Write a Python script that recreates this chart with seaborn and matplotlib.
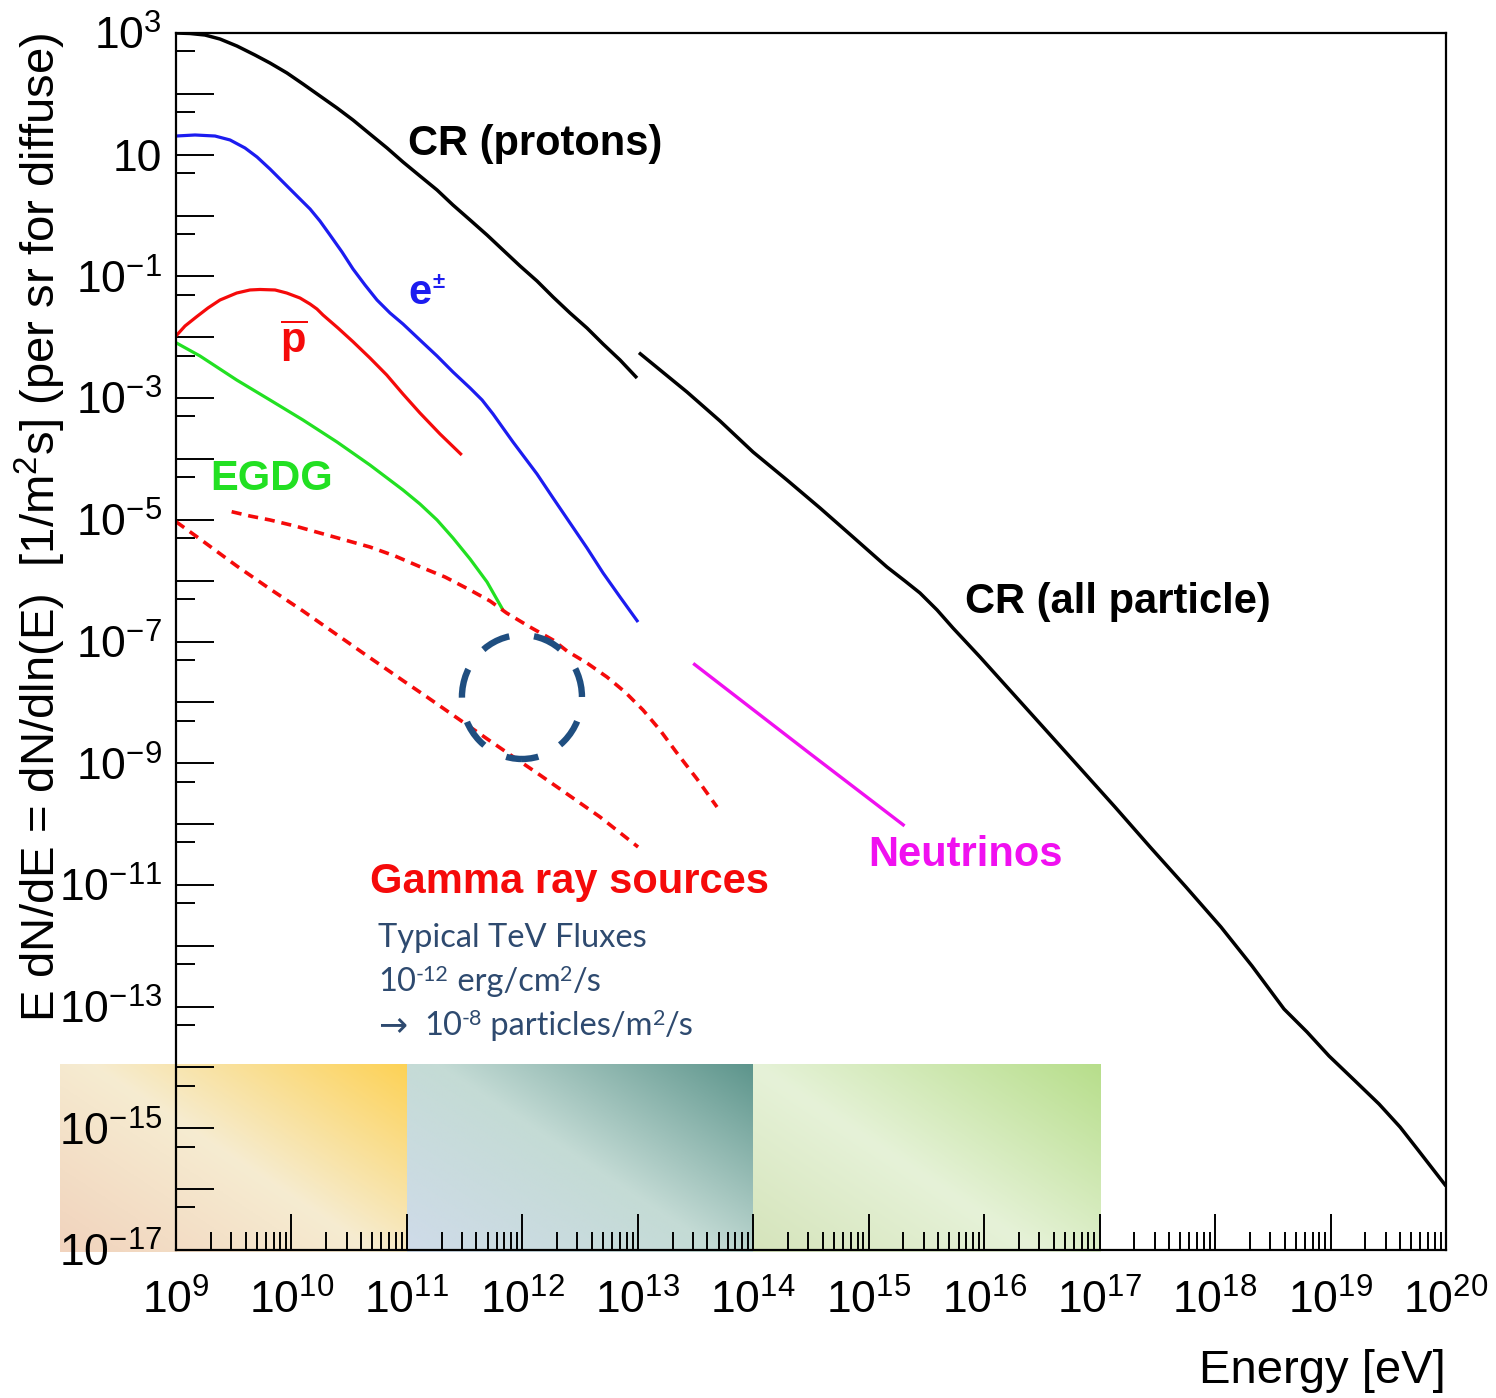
import numpy as np
import matplotlib
matplotlib.use("Agg")
import matplotlib.pyplot as plt
import matplotlib.transforms as mtransforms
import seaborn as sns
from matplotlib.patches import Ellipse
from matplotlib.colors import LinearSegmentedColormap
from matplotlib.ticker import FixedLocator, FuncFormatter, NullFormatter

# ---------------- data (log10 E [eV], log10 flux) ----------------
cr_p_logE = [9.0, 9.121, 9.251, 9.381, 9.528, 9.684, 9.814, 9.961, 10.100, 10.247, 10.395, 10.533,
             10.680, 10.828, 10.966, 11.113, 11.261, 11.399, 11.547, 11.694, 11.832, 11.980, 12.127,
             12.266, 12.413, 12.560, 12.699, 12.846, 12.993]
cr_p_logF = [3.000, 2.992, 2.967, 2.901, 2.786, 2.638, 2.507, 2.343, 2.162, 1.965, 1.767, 1.570,
             1.340, 1.110, 0.880, 0.650, 0.420, 0.173, -0.073, -0.320, -0.566, -0.829, -1.076,
             -1.339, -1.602, -1.849, -2.111, -2.374, -2.670]

cr_all_logE = [13.010, 13.426, 13.712, 13.998, 14.292, 14.578, 14.864, 15.158, 15.314, 15.444, 15.592,
               15.730, 15.964, 16.198, 16.510, 16.822, 17.133, 17.437, 17.748, 18.051, 18.320, 18.597,
               18.796, 18.987, 19.204, 19.420, 19.602, 19.758, 19.879, 20.0]
cr_all_logF = [-2.254, -2.900, -3.376, -3.886, -4.346, -4.806, -5.283, -5.776, -6.006, -6.203, -6.482,
               -6.779, -7.255, -7.748, -8.405, -9.063, -9.720, -10.377, -11.035, -11.692, -12.333,
               -13.040, -13.417, -13.812, -14.206, -14.601, -14.979, -15.357, -15.653, -15.949]

elec_logE = [9.0, 9.165, 9.338, 9.468, 9.598, 9.702, 9.814, 9.961, 10.074, 10.161, 10.247, 10.334,
             10.438, 10.533, 10.637, 10.741, 10.854, 10.966, 11.113, 11.261, 11.399, 11.547, 11.651,
             11.746, 11.832, 11.919, 12.023, 12.127, 12.266, 12.413, 12.560, 12.699, 12.846, 13.002]
elec_logF = [1.307, 1.324, 1.307, 1.242, 1.110, 0.962, 0.765, 0.486, 0.272, 0.108, -0.090, -0.320,
             -0.599, -0.878, -1.141, -1.388, -1.602, -1.782, -2.045, -2.308, -2.571, -2.834, -3.031,
             -3.261, -3.491, -3.722, -3.985, -4.248, -4.642, -5.053, -5.464, -5.874, -6.269, -6.680]

pbar_logE = [9.0, 9.078, 9.179, 9.277, 9.381, 9.526, 9.641, 9.728, 9.858, 9.959, 10.074, 10.161,
             10.221, 10.273, 10.403, 10.533, 10.680, 10.825, 10.966, 11.113, 11.287, 11.475]
pbar_logF = [-1.979, -1.815, -1.662, -1.519, -1.388, -1.273, -1.223, -1.215, -1.223, -1.273, -1.355,
             -1.454, -1.536, -1.634, -1.848, -2.073, -2.341, -2.620, -2.933, -3.245, -3.590, -3.935]

egdg_logE = [9.0, 9.208, 9.526, 9.814, 10.100, 10.395, 10.680, 10.966, 11.113, 11.261, 11.399, 11.547,
             11.694, 11.832]
egdg_logF = [-2.090, -2.308, -2.703, -3.031, -3.360, -3.722, -4.100, -4.510, -4.740, -5.003, -5.299,
             -5.644, -6.022, -6.482]

gam_hi_logE = [9.482, 9.641, 9.814, 10.031, 10.247, 10.464, 10.680, 10.897, 11.113, 11.330, 11.547,
               11.720, 11.864, 12.066, 12.266, 12.387, 12.560, 12.733, 12.889, 13.045, 13.192, 13.339,
               13.513, 13.686]
gam_hi_logF = [-4.867, -4.938, -5.003, -5.102, -5.217, -5.332, -5.447, -5.595, -5.771, -5.940, -6.154,
               -6.335, -6.532, -6.762, -6.976, -7.157, -7.354, -7.584, -7.830, -8.126, -8.455, -8.833,
               -9.260, -9.720]

gam_lo_logE = [9.0, 9.208, 9.526, 9.814, 10.100, 10.447, 10.620, 10.984, 11.174, 11.373, 11.746,
               11.936, 12.127, 12.326, 12.673, 13.002]
gam_lo_logF = [-5.031, -5.316, -5.759, -6.137, -6.499, -6.959, -7.189, -7.666, -7.912, -8.175, -8.668,
               -8.915, -9.161, -9.424, -9.884, -10.377]

nu_logE = [13.48, 14.49, 15.31]
nu_logF = [-7.36, -8.84, -10.03]

x_decades = list(range(9, 21))
y_decades = list(range(-17, 4))

# ---------------- style ----------------
sns.set_theme(style="white")
plt.rcParams["font.family"] = ["Liberation Sans", "DejaVu Sans"]
plt.rcParams["axes.unicode_minus"] = True

W, H = 1496, 1398
fig = plt.figure(figsize=(W / 100, H / 100), dpi=100)
fig.patch.set_facecolor("white")

# background gradient panels (figure coordinates)
bg = fig.add_axes([0, 0, 1, 1], zorder=0)
bg.set_xlim(0, 1)
bg.set_ylim(0, 1)
bg.axis("off")

def gradient(stops):
    cmap = LinearSegmentedColormap.from_list("g", stops)
    nx, ny = 300, 160
    u = np.linspace(0, 1, nx)[None, :]
    v = np.linspace(0, 1, ny)[:, None]
    t = 0.55 * u + 0.45 * v
    return cmap(t)

panel_y0, panel_y1 = 1 - 1252 / H, 1 - 1064 / H
panels = [
    (60 / W, 407 / W, [(0.0, "#f1d3bd"), (0.5, "#f6ecd1"), (1.0, "#fdd256")]),
    (407 / W, 753 / W, [(0.0, "#cfdbe9"), (0.5, "#c4dbd5"), (1.0, "#5d958c")]),
    (753 / W, 1100 / W, [(0.0, "#d5e4bb"), (0.45, "#e6f2d8"), (1.0, "#b7de8b")]),
]
for x0, x1, stops in panels:
    bg.imshow(gradient(stops), extent=(x0, x1, panel_y0, panel_y1), origin="lower",
              aspect="auto", interpolation="bilinear")

# main axes
ax = fig.add_axes([176 / W, 1 - 1250 / H, 1270 / W, 1217 / H], zorder=1)
ax.set_facecolor("none")
ax.set_xscale("log")
ax.set_yscale("log")

def draw(logE, logF, color, lw=2.4, ls="-"):
    sns.lineplot(x=10 ** np.array(logE, dtype=float), y=10 ** np.array(logF, dtype=float),
                 ax=ax, color=color, lw=lw, linestyle=ls, sort=False, estimator=None,
                 legend=False, solid_joinstyle="round", solid_capstyle="butt")

red = "#f50a0a"
draw(cr_p_logE, cr_p_logF, "black", 2.5)
draw(cr_all_logE, cr_all_logF, "black", 2.5)
draw(elec_logE, elec_logF, "#1c1cf0", 2.3)
draw(pbar_logE, pbar_logF, red, 2.3)
draw(egdg_logE, egdg_logF, "#22e022", 2.3)
draw(gam_hi_logE, gam_hi_logF, red, 2.6, (0, (2.8, 1.9)))
draw(gam_lo_logE, gam_lo_logF, red, 2.6, (0, (2.8, 1.9)))
draw(nu_logE, nu_logF, "#f010f0", 2.4)

ax.set_xlim(1e9, 1e20)
ax.set_ylim(1e-17, 1e3)

# ticks
ax.xaxis.set_major_locator(FixedLocator([10.0 ** k for k in x_decades]))
ax.xaxis.set_minor_locator(FixedLocator([m * 10.0 ** k for k in x_decades[:-1] for m in range(2, 10)]))
ax.xaxis.set_major_formatter(FuncFormatter(lambda v, p: r"$\mathdefault{10^{%d}}$" % round(np.log10(v))))
ax.xaxis.set_minor_formatter(NullFormatter())

ax.yaxis.set_major_locator(FixedLocator([10.0 ** k for k in y_decades]))
ax.yaxis.set_minor_locator(FixedLocator([5 * 10.0 ** k for k in y_decades[:-1]]))

def yfmt(v, p):
    k = int(round(np.log10(v)))
    if k % 2 == 0:
        return ""
    if k == 1:
        return "10"
    return r"$\mathdefault{10^{%d}}$" % k

ax.yaxis.set_major_formatter(FuncFormatter(yfmt))
ax.yaxis.set_minor_formatter(NullFormatter())

ax.tick_params(axis="x", which="major", direction="in", length=26, width=1.4,
               labelsize=32, pad=21, top=False, bottom=True, colors="black")
ax.tick_params(axis="x", which="minor", direction="in", length=13, width=1.4,
               top=False, bottom=True, colors="black")
ax.tick_params(axis="y", which="major", direction="in", length=27, width=1.4,
               labelsize=32, pad=10, right=False, left=True, colors="black")
ax.tick_params(axis="y", which="minor", direction="in", length=13.5, width=1.4,
               right=False, left=True, colors="black")
for s in ax.spines.values():
    s.set_visible(True)
    s.set_color("black")
    s.set_linewidth(1.6)

ax.set_xlabel("Energy [eV]", fontsize=34, color="black")
ax.xaxis.set_label_coords(1.0, -0.081)
ax.xaxis.label.set_ha("right")
ax.xaxis.label.set_va("top")

ax.set_ylabel(r"E dN/dE = dN/dln(E)  [1/m$^{\mathdefault{2}}$s] (per sr for diffuse)",
              fontsize=34, color="black")
ax.yaxis.set_label_coords(-0.107, 0.594)
ax.yaxis.label.set_va("center")
ax.yaxis.label.set_ha("center")

# annotations
def lab(fx, fy, s, color, size=30, weight="bold", **kw):
    return ax.text(fx, fy, s, color=color, fontsize=size, fontweight=weight,
                   transform=ax.transAxes, ha="left", va="baseline", **kw)

lab(0.1827, 0.8998, "CR (protons)", "black")
lab(0.6213, 0.5234, "CR (all particle)", "black")
lab(0.1827, 0.7773, "e", "#1c1cf0")
lab(0.2016, 0.7905, "\u00b1", "#1c1cf0", size=16)
lab(0.0819, 0.737, r"$\overline{\mathdefault{p}}$", red)
lab(0.0268, 0.6245, "EGDG", "#22e022")
lab(0.1528, 0.2933, "Gamma ray sources", red)
lab(0.5449, 0.3155, "Neutrinos", "#f010f0")

navy = "#2e4a6f"
fam = ["Lato", "DejaVu Sans"]
renderer = fig.canvas.get_renderer()

def rich(fx, fy, parts):
    xoff = 0.0
    for s, size, rise in parts:
        tr = mtransforms.offset_copy(ax.transAxes, fig=fig, x=xoff, y=rise, units="dots")
        t = ax.text(fx, fy, s, transform=tr, fontsize=size, color=navy, family=fam,
                    ha="left", va="baseline")
        xoff += t.get_window_extent(renderer).width

big, sup, rise = 23.5, 15.5, 10
lab(0.159, 0.249, "Typical TeV Fluxes", navy, size=big, weight="normal", family=fam)
rich(0.159, 0.2128, [("10", big, 0), ("-12", sup, rise), (" erg/cm", big, 0), ("2", sup, rise), ("/s", big, 0)])
lab(0.159, 0.1767, "\u2192", navy, size=25, weight="normal", family=["DejaVu Sans"])
rich(0.1953, 0.1767, [("10", big, 0), ("-8", sup, rise), (" particles/m", big, 0), ("2", sup, rise), ("/s", big, 0)])

circ = Ellipse((0.2724, 0.4544), 120 / 1270, 124 / 1217, transform=ax.transAxes,
               fill=False, edgecolor="#1f4e80", lw=4.6, linestyle=(2, (4.6, 3.9)), zorder=5)
ax.add_patch(circ)

fig.savefig("out.png", dpi=100)
